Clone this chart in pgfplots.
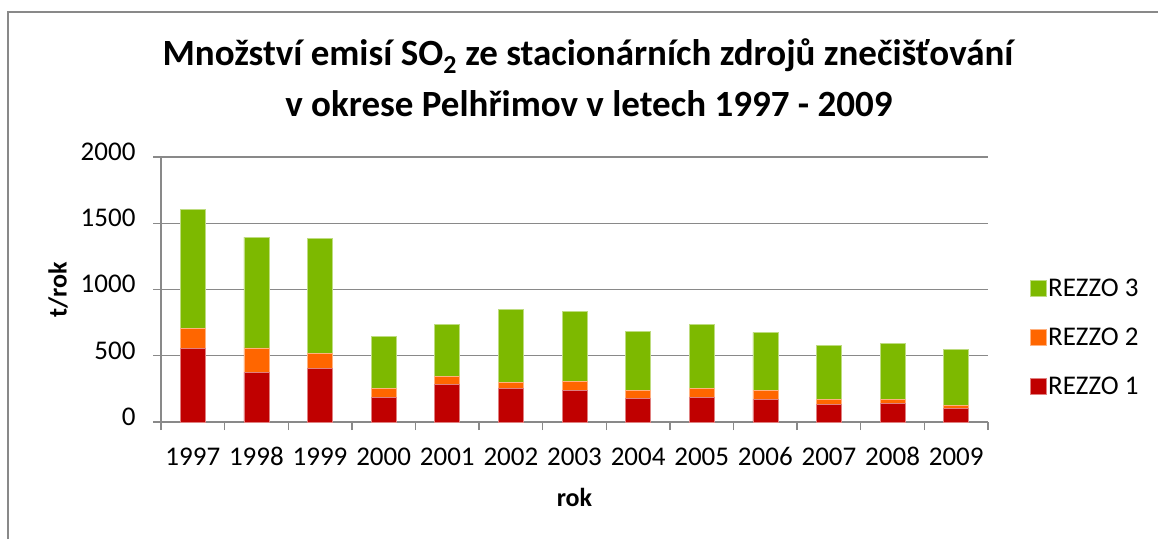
\documentclass[border=0pt]{standalone}
\usepackage{fontspec}
\setmainfont{Carlito}
\usepackage{pgfplots}
\pgfplotsset{compat=1.18}
\usepackage{pgfplotstable}
\definecolor{rzred}{HTML}{C00000}
\definecolor{rzorange}{HTML}{FF6600}
\definecolor{rzgreen}{HTML}{7DB900}
\definecolor{axgray}{HTML}{898989}
\pgfplotstableread{
x r1 r2 r3
0 553 151 902
1 374 186 835
2 402 116 867
3 186 65 395
4 281 66 392
5 251 48 550
6 241 68 525
7 178 63 443
8 186 68 480
9 171 68 437
10 133 38 407
11 141 32 420
12 101 27 417
}\emis
\begin{document}
\begin{tikzpicture}
\useasboundingbox (0pt,0pt) rectangle (1158pt,539pt);
\draw[axgray, line width=2pt] (7.5pt,0pt) -- (7.5pt,527pt) -- (1158pt,527pt);
\begin{axis}[
  at={(161pt,117pt)}, anchor=south west,
  scale only axis, width=827pt, height=265pt,
  ybar stacked, bar width=25pt,
  xmin=-0.5, xmax=12.5, ymin=0, ymax=2000,
  ytick={0,500,...,2000},
  xtick={-0.5,0.5,...,12.5}, xticklabels={},
  extra x ticks={0,...,12},
  extra x tick labels={1997,1998,1999,2000,2001,2002,2003,2004,2005,2006,2007,2008,2009},
  extra x tick style={major tick length=0pt},
  axis lines*=left,
  axis line style={axgray, line width=1.4pt},
  tick style={axgray, line width=1.4pt},
  major tick length=8pt, tick align=outside,
  ymajorgrids, grid style={axgray, line width=1.4pt},
  /pgf/number format/1000 sep={},
  /pgf/number format/assume math mode=true,
  ticklabel style={font=\fontsize{27}{32}\selectfont, text=black, text height=0.7em, text depth=0.05em},
  yticklabel style={xshift=-14pt},
  xticklabel style={yshift=-33pt},
  xlabel={\textbf{rok}}, ylabel={\textbf{t/rok}},
  xlabel style={font=\fontsize{26}{30}\selectfont, at={(0.5,-0.283)}, anchor=center},
  ylabel style={font=\fontsize{26}{30}\selectfont, at={(-0.1245,0.5)}, anchor=center},
  title={\textbf{Množství emisí SO\textsubscript{2} ze stacionárních zdrojů znečišťování}\\[2pt]\textbf{v okrese Pelhřimov v letech 1997 - 2009}},
  title style={font=\fontsize{37}{49}\selectfont, align=center, at={(0.5175,1.437)}, anchor=north},
  legend style={at={(1.050,0.320)}, anchor=west, draw=none, fill=none,
    font=\fontsize{27}{32}\selectfont, row sep=26pt, inner sep=0pt},
  legend cell align=left,
  reverse legend,
  legend image code/.code={\fill[#1] (-3pt,-8pt) rectangle (13pt,8pt);},
]
\addplot[fill=rzred, draw=rzred!50!white, line width=0.6pt] table[x=x,y=r1]{\emis};
\addplot[fill=rzorange, draw=rzorange!50!white, line width=0.6pt] table[x=x,y=r2]{\emis};
\addplot[fill=rzgreen, draw=rzgreen!50!white, line width=0.6pt] table[x=x,y=r3]{\emis};
\legend{REZZO 1,REZZO 2,REZZO 3}
\end{axis}
\end{tikzpicture}
\end{document}
